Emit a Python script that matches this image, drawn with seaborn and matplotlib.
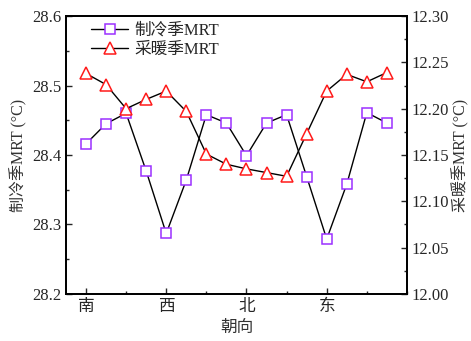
import matplotlib
matplotlib.use("Agg")
import matplotlib.pyplot as plt
import seaborn as sns
from matplotlib.ticker import MultipleLocator

# orientation index 0..15, labels only on the four main directions
positions = list(range(16))
tick_positions = [0, 4, 8, 12]
tick_labels = ["南", "西", "北", "东"]

cooling_mrt = [28.416, 28.445, 28.460, 28.377, 28.287, 28.364, 28.458, 28.446,
               28.399, 28.446, 28.458, 28.369, 28.279, 28.358, 28.461, 28.446]
heating_mrt = [12.238, 12.226, 12.200, 12.210, 12.219, 12.197, 12.151, 12.140,
               12.135, 12.131, 12.127, 12.173, 12.219, 12.237, 12.229, 12.239]

sns.set_style("ticks")
plt.rcParams["font.family"] = ["Liberation Serif", "Noto Sans CJK SC", "DejaVu Sans"]
plt.rcParams["axes.unicode_minus"] = False

PURPLE = "#9B30FF"
RED = "#FF1A1A"

fig = plt.figure(figsize=(4.71, 3.41), dpi=100)
ax = fig.add_axes([0.140, 0.138, 0.724, 0.815])
ax2 = ax.twinx()

sns.lineplot(x=positions, y=cooling_mrt, ax=ax, color="black", linewidth=1.0,
             marker="s", markersize=7, markerfacecolor="white",
             markeredgecolor=PURPLE, markeredgewidth=1.1, label="制冷季MRT", legend=False)
sns.lineplot(x=positions, y=heating_mrt, ax=ax2, color="black", linewidth=1.0,
             marker="^", markersize=8.5, markerfacecolor="white",
             markeredgecolor=RED, markeredgewidth=1.1, label="采暖季MRT", legend=False)

ax.set_xlim(-1, 16)
ax.set_ylim(28.2, 28.6)
ax2.set_ylim(12.0, 12.3)

ax.set_xticks(tick_positions)
ax.set_xticklabels(tick_labels)
ax.xaxis.set_minor_locator(MultipleLocator(2))
ax.yaxis.set_major_locator(MultipleLocator(0.1))
ax.yaxis.set_minor_locator(MultipleLocator(0.05))
ax2.yaxis.set_major_locator(MultipleLocator(0.05))
ax2.yaxis.set_minor_locator(MultipleLocator(0.025))
ax.yaxis.set_major_formatter(matplotlib.ticker.FormatStrFormatter("%.1f"))
ax2.yaxis.set_major_formatter(matplotlib.ticker.FormatStrFormatter("%.2f"))

for a in (ax, ax2):
    a.tick_params(which="major", direction="in", length=4, width=1, labelsize=12)
    a.tick_params(which="minor", direction="in", length=2.5, width=1)
    for s in a.spines.values():
        s.set_linewidth(1.3)
        s.set_color("black")
ax.tick_params(axis="y", right=False, which="both")
ax.tick_params(axis="x", top=False, which="both")

ax.set_xlabel("朝向", fontsize=12, color="#333333")
ax.set_ylabel("制冷季MRT (°C)", fontsize=11.5, color="#333333", labelpad=3)
ax2.set_ylabel("采暖季MRT (°C)", fontsize=11.5, color="#333333", labelpad=2)

h1, l1 = ax.get_legend_handles_labels()
h2, l2 = ax2.get_legend_handles_labels()
ax2.legend(h1 + h2, l1 + l2, loc="upper left", frameon=False, fontsize=12,
           bbox_to_anchor=(0.03, 1.03), handlelength=2.2, handletextpad=0.4,
           labelspacing=0.2)

fig.savefig("out.png", dpi=100)
